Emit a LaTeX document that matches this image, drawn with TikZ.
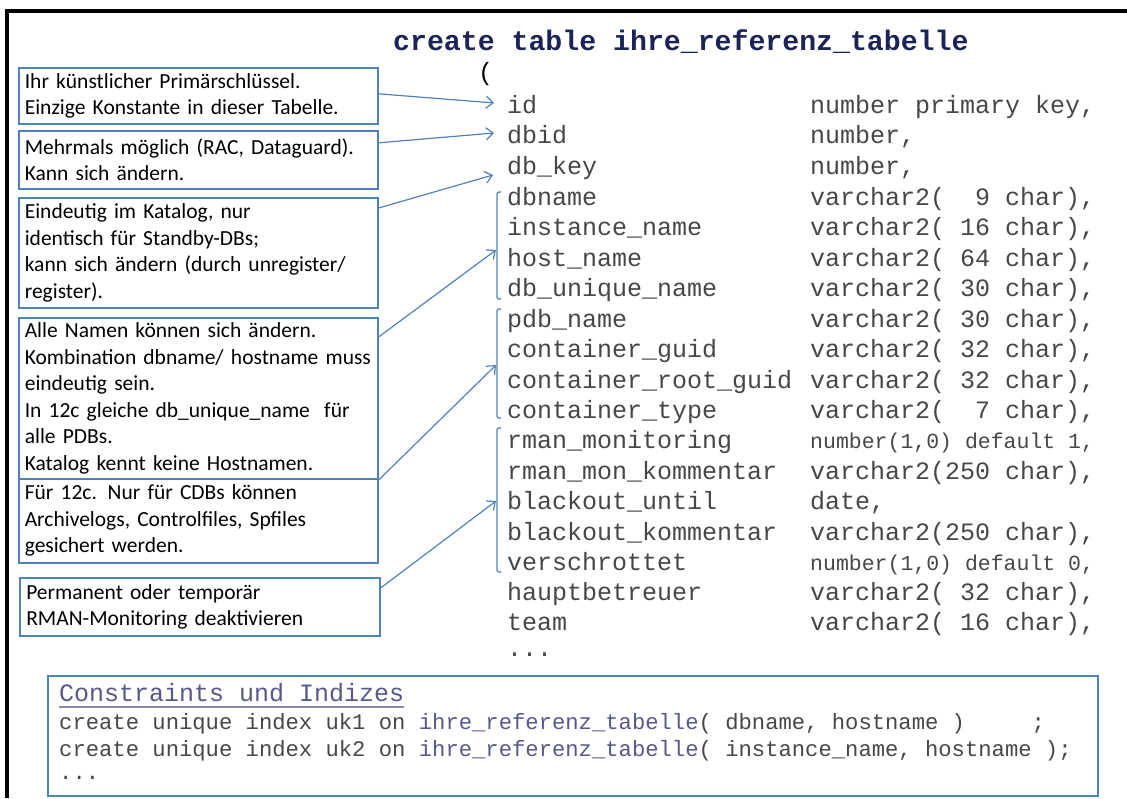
\documentclass[tikz,border=0pt]{standalone}
\usepackage{fontspec}
\setmainfont{Carlito}
\setmonofont{Liberation Mono}
\usetikzlibrary{arrows.meta}
\definecolor{boxblue}{HTML}{4F81BD}
\definecolor{codegray}{HTML}{474747}
\definecolor{titlenavy}{HTML}{1C2357}
\definecolor{slate}{HTML}{58588A}
\tikzset{
  annot/.style={draw=boxblue, line width=1.6pt, rectangle, anchor=north west,
    minimum width=359pt, text width=347pt, inner xsep=6pt, inner ysep=0pt,
    align=left, font=\fontsize{21.5}{26.5}\selectfont, text=black},
  link/.style={draw=boxblue, line width=1.2pt,
    -{Straight Barb[length=7pt,width=12pt,line width=1.2pt]}},
  brk/.style={draw=boxblue, line width=1.2pt, rounded corners=2pt},
  col/.style={anchor=base west, inner sep=0pt, text=codegray, font=\fontsize{25}{30}\ttfamily},
  colsmall/.style={col, font=\fontsize{21.5}{26}\ttfamily},
  idx/.style={anchor=base west, inner sep=0pt, text=codegray, font=\fontsize{22.2}{26}\ttfamily},
}
\begin{document}
\begin{tikzpicture}[x=1pt,y=-1pt]
\useasboundingbox (0,0) rectangle (1127,798);
% frame
\draw[line width=4.2pt, line join=miter] (7.2,798) -- (7.2,11.3) -- (1127,11.3);

% title
\node[anchor=base west, inner sep=0pt, font=\fontsize{28.2}{30}\ttfamily\bfseries, text=titlenavy]
  (title) at (393,50) {create table ihre\_referenz\_tabelle};
\node[col, text=black] (paren) at (478,80) {(};

% code rows: names
\node[col] (id)   at (507,113) {id};
\node[col] (dbid) at (507,143) {dbid};
\node[col] (dbkey) at (507,174) {db\_key};
\node[col] (dbname) at (507,205) {dbname};
\node[col] (inst) at (507,235) {instance\_name};
\node[col] (host) at (507,266) {host\_name};
\node[col] (dbu) at (507,296) {db\_unique\_name};
\node[col] (pdb) at (507,327) {pdb\_name};
\node[col] (cg) at (507,357) {container\_guid};
\node[col] (crg) at (507,388) {container\_root\_guid};
\node[col] (ct) at (507,418) {container\_type};
\node[col] (rm) at (507,448) {rman\_monitoring};
\node[col] (rmk) at (507,479) {rman\_mon\_kommentar};
\node[col] (bu) at (507,509) {blackout\_until};
\node[col] (bk) at (507,540) {blackout\_kommentar};
\node[col] (vs) at (507,570) {verschrottet};
\node[col] (hb) at (507,600) {hauptbetreuer};
\node[col] (team) at (507,630) {team};
\node[col] (dots) at (507,656) {...};

% code rows: types
\node[col] (tid)   at (810,113) {number primary key,};
\node[col] (tdbid) at (810,143) {number,};
\node[col] (tdbkey) at (810,174) {number,};
\node[col] (tdbname) at (810,205) {varchar2(~~9~char),};
\node[col] (tinst) at (810,235) {varchar2(~16~char),};
\node[col] (thost) at (810,266) {varchar2(~64~char),};
\node[col] (tdbu) at (810,296) {varchar2(~30~char),};
\node[col] (tpdb) at (810,327) {varchar2(~30~char),};
\node[col] (tcg) at (810,357) {varchar2(~32~char),};
\node[col] (tcrg) at (810,388) {varchar2(~32~char),};
\node[col] (tct) at (810,418) {varchar2(~~7~char),};
\node[colsmall] (trm) at (810,448) {number(1,0) default 1,};
\node[col] (trmk) at (810,479) {varchar2(250~char),};
\node[col] (tbu) at (810,509) {date,};
\node[col] (tbk) at (810,540) {varchar2(250~char),};
\node[colsmall] (tvs) at (810,570) {number(1,0) default 0,};
\node[col] (thb) at (810,600) {varchar2(~32~char),};
\node[col] (tteam) at (810,630) {varchar2(~16~char),};

% brackets
\draw[brk] (501,192) -- (497,192) -- (497,299) -- (501,299);
\draw[brk] (501,309) -- (497,309) -- (497,418) -- (501,418);
\draw[brk] (501,428) -- (497,428) -- (497,572) -- (501,572);
\coordinate (g1) at (496,250);
\coordinate (g2) at (496,365);
\coordinate (g3) at (496,501);

% annotation boxes
\node[annot, minimum height=56pt] (b1) at (18,67)
  {Ihr künstlicher Primärschlüssel.\\Einzige Konstante in dieser Tabelle.};
\node[annot, minimum height=58pt] (b2) at (18,130)
  {Mehrmals möglich (RAC, Dataguard).\\Kann sich ändern.};
\node[annot, minimum height=110pt] (b3) at (18,197)
  {Eindeutig im Katalog, nur\\identisch für Standby-DBs;\\kann sich ändern (durch unregister/\\register).};
\node[annot, minimum height=161pt] (b4) at (18,317)
  {Alle Namen können sich ändern.\\\mbox{Kombination dbname/ hostname muss}\\eindeutig sein.\\In 12c gleiche db\_unique\_name~ für\\alle PDBs.\\Katalog kennt keine Hostnamen.};
\node[annot, minimum height=84pt] (b5) at (18,478)
  {Für 12c. Nur für CDBs können\\Archivelogs, Controlfiles, Spfiles\\gesichert werden.};
\node[annot, minimum height=58pt, minimum width=360pt] (b6) at (19,577)
  {Permanent oder temporär\\RMAN-Monitoring deaktivieren};

% connectors
\coordinate (t1) at (494,103);
\coordinate (t2) at (494,133);
\coordinate (t3) at (493,175);
\draw[link] ([yshift=2pt]b1.east) -- (t1);
\draw[link] ([yshift=17pt]b2.east) -- (t2);
\draw[link] ([yshift=-11pt]b3.north east) -- (t3);
\draw[link] ([yshift=-20pt]b4.north east) -- (g1);
\draw[link] ([yshift=-2pt]b5.north east) -- (g2);
\draw[link] ([yshift=-11pt]b6.north east) -- (g3);

% constraints box
\node[draw=boxblue, line width=1.6pt, minimum width=1050pt, minimum height=120pt,
  anchor=north west, inner sep=0pt] (cbox) at (47,675) {};
\node[anchor=base west, inner sep=0pt, font=\fontsize{25}{30}\ttfamily, text=slate]
  (chead) at (59,701) {Constraints und Indizes};
\draw[draw=slate!70, line width=1.5pt] ([yshift=-6pt]chead.base west) -- ([yshift=-6pt]chead.base east);
\node[idx] (ix1) at (59,729) {create unique index uk1 on \textcolor{slate}{ihre\_referenz\_tabelle}( dbname, hostname )~~~~~;};
\node[idx] (ix2) at (59,756) {create unique index uk2 on \textcolor{slate}{ihre\_referenz\_tabelle}( instance\_name, hostname );};
\node[idx] (ix3) at (59,779) {...};
\end{tikzpicture}
\end{document}
